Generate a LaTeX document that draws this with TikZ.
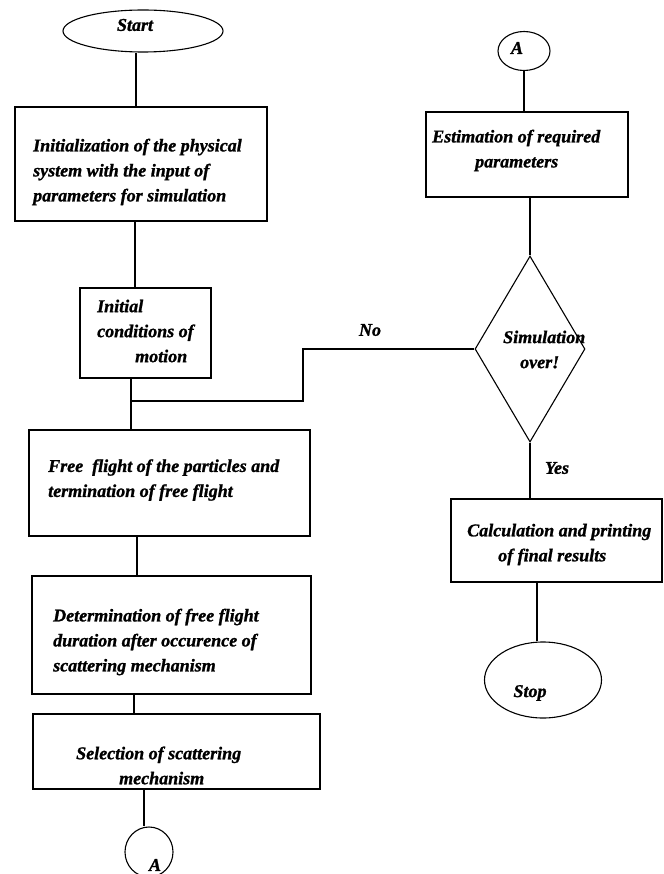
\documentclass[tikz,border=0pt]{standalone}
\usepackage{fontspec}
\setmainfont{Liberation Serif}[BoldItalicFeatures={FakeBold=1.2}]
\usetikzlibrary{shapes.geometric}
\begin{document}
\begin{tikzpicture}[x=1pt,y=-1pt,
  shp/.style={draw=black,line width=1.1pt,inner sep=0pt,anchor=center},
  rbox/.style={shp,rectangle,minimum width=#1},
  ell/.style={shp,ellipse},
  txt/.style={font=\fontsize{18}{25}\selectfont\bfseries\itshape,align=left,anchor=west,inner sep=0pt},
  lbl/.style={font=\fontsize{18}{25}\selectfont\bfseries\itshape,inner sep=0pt},
  conn/.style={draw=black,line width=1.1pt}]
\useasboundingbox (0,0) rectangle (663,874);
\fill[white] (0,0) rectangle (663,874);

% shapes
\node[ell,minimum width=160pt,minimum height=42pt] (start) at (143,31) {};
\node[rbox=252pt,minimum height=114pt] (init) at (141,164) {};
\node[rbox=131pt,minimum height=90pt] (initc) at (145.5,333) {};
\node[rbox=281pt,minimum height=106pt] (free) at (169.5,483) {};
\node[rbox=279pt,minimum height=118pt] (det) at (171.5,635) {};
\node[rbox=287pt,minimum height=75pt] (sel) at (176.5,751.5) {};
\node[ell,minimum width=48pt,minimum height=50pt] (A1) at (149,852) {};
\node[ell,minimum width=52pt,minimum height=39pt] (A2) at (524,51) {};
\node[rbox=202pt,minimum height=85pt] (est) at (527,154.5) {};
\node[shp,diamond,minimum width=110pt,minimum height=186pt] (dia) at (530,349) {};
\node[rbox=211pt,minimum height=83pt] (calc) at (556.5,540.5) {};
\node[ell,minimum width=117pt,minimum height=76pt] (stop) at (543,680) {};

% texts
\node[lbl] (tstart) at (135,25) {Start};
\node[txt] (tinit) at (33,172) {Initialization of the physical\\system with the input of\\parameters for simulation};
\node[txt] (tinitc) at (97,331) {Initial\\conditions of\\\hspace*{38pt}motion};
\node[txt] (tfree) at (48,480) {Free~ flight of the particles and\\termination of free flight};
\node[txt] (tdet) at (53,642) {Determination of free flight\\duration after occurence of\\scattering mechanism};
\node[txt] (tsel) at (76,765.5) {Selection of scattering\\\hspace*{43pt}mechanism};
\node[lbl] (tA1) at (155,865) {A};
\node[lbl] (tA2) at (517,48) {A};
\node[txt] (test) at (432,150.5) {Estimation of required\\\hspace*{43pt}parameters};
\node[txt] (tdia) at (503,349.5) {Simulation\\\hspace*{17pt}over!};
\node[txt] (tcalc) at (467,544.5) {Calculation and printing\\\hspace*{31pt}of final results};
\node[lbl] (tstop) at (530,693) {Stop};
\node[lbl] (tno) at (370,330) {No};
\node[lbl] (tyes) at (557,468) {Yes};

% connectors
\draw[conn] ([xshift=-7pt]start.south) -- ([xshift=-7pt]start.south |- init.north);
\draw[conn] ([xshift=-6pt]init.south) -- ([xshift=-6pt]init.south |- initc.north);
\draw[conn] ([xshift=-14.5pt]initc.south) -- ([xshift=-14.5pt]initc.south |- free.north);
\coordinate (J) at (131,401);
\coordinate (nobend) at (303,349);
\draw[conn] (dia.west) -- (dia.west -| nobend) -- (nobend |- J) -- (J);
\draw[conn] ([xshift=-32.5pt]free.south) -- ([xshift=-32.5pt]free.south |- det.north);
\draw[conn] ([xshift=-37.5pt]det.south) -- ([xshift=-37.5pt]det.south |- sel.north);
\draw[conn] ([xshift=-32.5pt]sel.south) -- ([xshift=-32.5pt]sel.south |- A1.north);
\draw[conn] (A2.south) -- (A2.south |- est.north);
\draw[conn] (dia.north |- est.south) -- (dia.north);
\draw[conn] (dia.south) -- (dia.south |- calc.north);
\draw[conn] ([xshift=-6pt]stop.north) -- ([xshift=-6pt]stop.north |- calc.south);
\end{tikzpicture}
\end{document}
